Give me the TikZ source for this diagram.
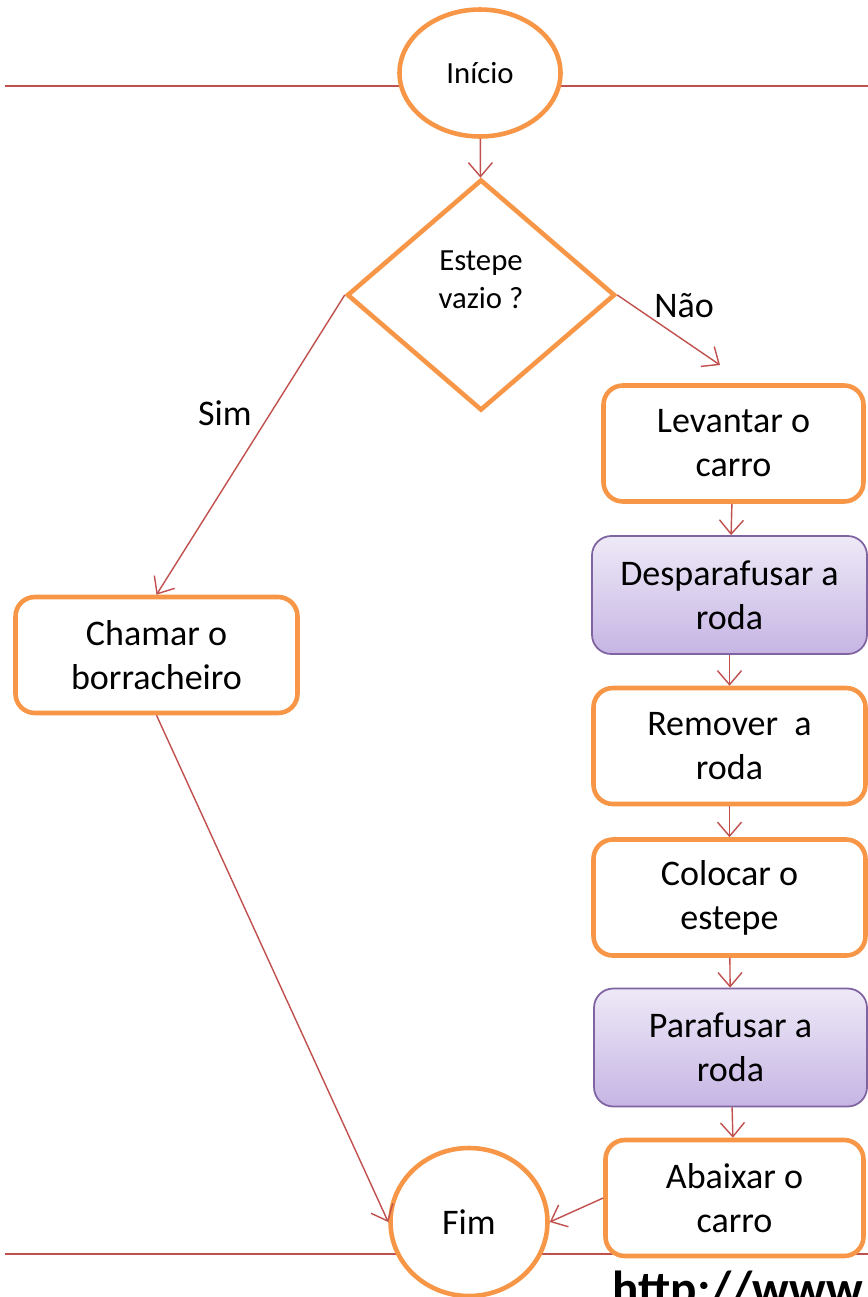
\documentclass[tikz,border=0pt]{standalone}
\usepackage{fontspec}
\setmainfont{Carlito}
\usetikzlibrary{arrows.meta,positioning,shapes.geometric}
\definecolor{orangeline}{HTML}{F79646}
\definecolor{redline}{HTML}{C0504D}
\definecolor{violetline}{HTML}{8064A2}
\definecolor{violettop}{HTML}{EEE9F7}
\definecolor{violetbot}{HTML}{C6B5E4}
\newcommand{\bigtext}{\fontsize{20.5}{25}\selectfont}
\newcommand{\smalltext}{\fontsize{17.5}{21.5}\selectfont}
\tikzset{
  terminal/.style={draw=orangeline,fill=white,ellipse,line width=2.6pt,inner sep=0pt,align=center},
  decision/.style={draw=orangeline,fill=white,diamond,line width=2.6pt,inner sep=0pt,minimum width=5.36cm,minimum height=4.62cm},
  stepbox/.style={draw=orangeline,fill=white,line width=2.6pt,rounded corners=11pt,minimum width=#1,minimum height=2.32cm,align=center,font=\bigtext},
  subbox/.style={draw=violetline,top color=violettop,bottom color=violetbot,line width=1pt,rounded corners=11pt,minimum width=#1,minimum height=2.36cm,align=center,font=\bigtext},
  flow/.style={-{Straight Barb[length=2.8mm,width=4.8mm]},line width=0.8pt,draw=redline},
  rule/.style={line width=1.4pt,draw=redline},
  tag/.style={font=\bigtext,inner sep=0pt}
}

\begin{document}
\begin{tikzpicture}
    \useasboundingbox (0,0) rectangle (17.36,-25.94);
    \clip (0,0) rectangle (17.36,-25.94);

    % red rules behind the terminals
    \coordinate (topl) at (0.1,-1.72);
    \coordinate (topr) at (17.36,-1.72);
    \coordinate (botl) at (0.1,-25.08);
    \coordinate (botr) at (17.36,-25.08);
    \draw[rule] (topl) -- (topr);
    \draw[rule] (botl) -- (botr);

    \node[terminal,minimum width=3.22cm,minimum height=2.54cm,font=\smalltext] (start) at (9.6,-1.46) {Início};
    \node[decision] (empty) at (9.62,-5.9) {};
    \node[font=\smalltext,align=center] (emptytext) at (9.62,-5.6) {Estepe\\vazio ?};

    \node[stepbox=5.2cm] (lift) at (14.67,-8.87) {Levantar o\\carro};
    \node[subbox=5.5cm] (unscrew) at (14.59,-11.9) {Desparafusar a\\roda};
    \node[stepbox=5.44cm] (remove) at (14.59,-14.92) {Remover~~a\\roda};
    \node[stepbox=5.44cm] (fit) at (14.59,-17.95) {Colocar o\\estepe};
    \node[subbox=5.46cm] (screw) at (14.61,-20.95) {Parafusar a\\roda};
    \node[stepbox=5.16cm] (lower) at (14.69,-23.96) {Abaixar o\\carro};

    \node[stepbox=5.64cm] (call) at (3.13,-13.1) {Chamar o\\borracheiro};
    \node[terminal,minimum width=3.14cm,minimum height=2.96cm,font=\bigtext] (end) at (9.38,-24.44) {Fim};

    \coordinate (noend) at (14.4,-7.3);
    \node[tag] (nolabel) at (13.68,-6.12) {Não};
    \node[tag] (yeslabel) at (4.5,-8.26) {Sim};

    \draw[flow] (start) -- (empty);
    \draw[flow] (empty.east) -- (noend);
    \draw[flow] (empty.west) -- (call.north);
    \draw[flow] (lift) -- (unscrew);
    \draw[flow] (unscrew) -- (remove);
    \draw[flow] (remove) -- (fit);
    \draw[flow] (fit) -- (screw);
    \draw[flow] (screw) -- (lower);
    \draw[flow] (call.south) -- (end.west);
    \draw[flow] (lower.west) -- (end.east);

    \node[anchor=base west,inner sep=0pt,font=\fontsize{28}{30}\selectfont\bfseries] (url) at (12.24,-26.1) {http://www};
  \end{tikzpicture}
\end{document}
